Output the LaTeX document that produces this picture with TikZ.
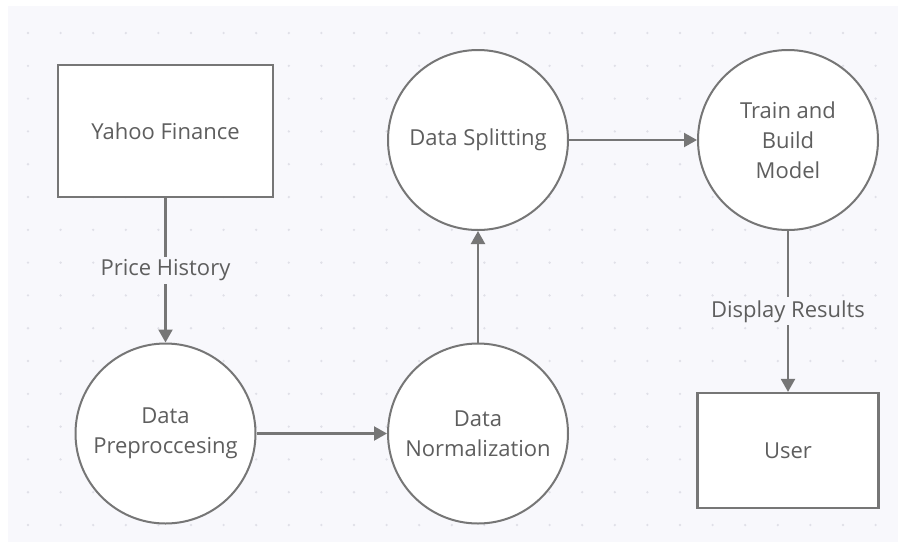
\documentclass[tikz,border=0pt]{standalone}
\usepackage{fontspec}
\setmainfont{Open Sans}
\usetikzlibrary{arrows.meta}
\definecolor{bgc}{HTML}{F8F8FC}
\definecolor{linec}{HTML}{767676}
\definecolor{txtc}{HTML}{5E5E5E}
\definecolor{dotc}{HTML}{E0E0E8}

\begin{document}
\begin{tikzpicture}[x=1pt,y=-1pt,
  every node/.style={font=\fontsize{22}{30}\selectfont, text=txtc},
  boxnode/.style={draw=linec, line width=2.2pt, fill=white, rectangle, inner sep=0pt, align=center},
  procnode/.style={draw=linec, line width=2pt, fill=white, circle, inner sep=0pt, minimum size=180pt, align=center},
  flow/.style={draw=linec, line width=2.2pt, -{Triangle[length=13pt,width=14pt]}},
  flowlabel/.style={fill=bgc, inner sep=3pt}
]
% canvas and dotted grid
\useasboundingbox (0,0) rectangle (898,542);
\fill[white] (0,0) rectangle (898,542);
\fill[bgc] (8,6) rectangle (898,542);
\foreach \i in {0,...,26}{
  \foreach \j in {0,...,15}{
    \fill[dotc] (28+32.6*\i, 33+32.8*\j) circle (1.3);
  }
}

% external entities
\node[boxnode, minimum width=215pt, minimum height=132pt] (yahoo) at (165.5,131) {Yahoo Finance};
\node[boxnode, minimum width=181pt, minimum height=115pt] (user) at (788,450.5) {User};

% processes
\node[procnode] (prep)  at (165.5,433.5) {Data\\Preproccesing};
\node[procnode] (norm)  at (478,433.5) {Data\\Normalization};
\node[procnode] (split) at (478,140) {Data Splitting};
\node[procnode] (train) at (788,140) {Train and\\Build\\Model};

% data flows
\draw[flow] (yahoo) -- node[flowlabel] {Price History} (prep);
\draw[flow] (prep) -- (norm);
\draw[flow] (norm) -- (split);
\draw[flow] (split) -- (train);
\draw[flow] (train) -- node[flowlabel] {Display Results} (user);
\end{tikzpicture}
\end{document}
